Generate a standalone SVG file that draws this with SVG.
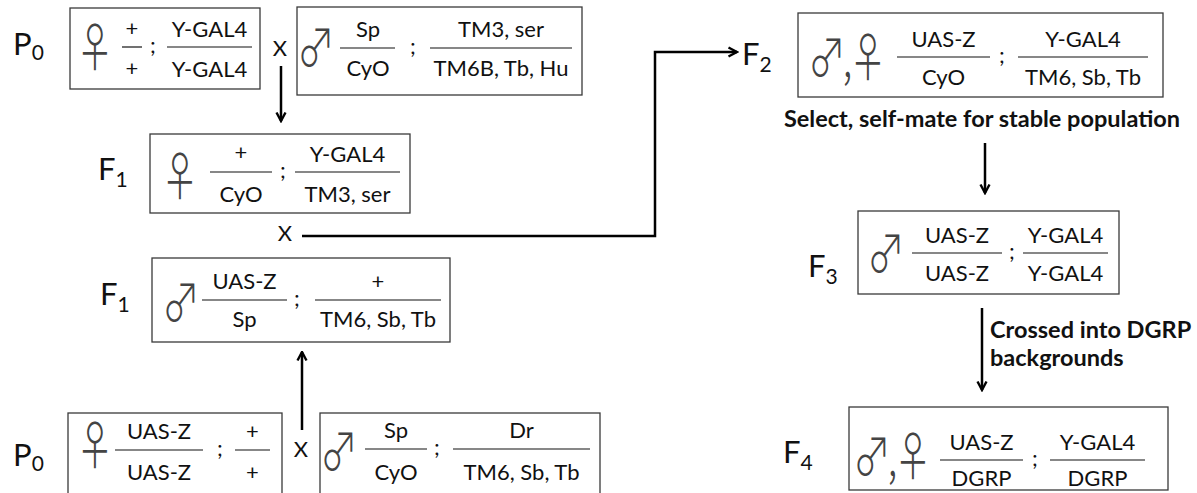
<svg xmlns="http://www.w3.org/2000/svg" width="1197" height="493" viewBox="0 0 1197 493">
<defs>
<style>
.box{fill:none;stroke:#3a3a3a;stroke-width:1.3}
.fl{stroke:#111;stroke-width:1.2}
.t{font-family:Lato,"Open Sans",sans-serif;font-size:22px;fill:#111;text-anchor:middle}
.semi{font-family:Lato,"Open Sans",sans-serif;font-size:22px;fill:#111}
.lbl{font-family:Lato,"Open Sans",sans-serif;font-size:31px;fill:#111}
.sub{font-size:21px}
.sym{font-family:"Noto Sans CJK JP","DejaVu Sans",sans-serif;font-size:42px;font-weight:300;fill:#444}
.mid{text-anchor:middle}
.pair{letter-spacing:-3.5px}
.bold{font-family:Lato,"Open Sans",sans-serif;font-weight:bold;font-size:23.5px;fill:#111}
.conn{fill:none;stroke:#000;stroke-width:2.5}
</style>
<marker id="ah" viewBox="0 0 12 12" refX="10.5" refY="6" markerWidth="12" markerHeight="12" markerUnits="userSpaceOnUse" orient="auto">
<path d="M2,1.5 L10.5,6 L2,10.5" fill="none" stroke="#000" stroke-width="2.4"/>
</marker>
</defs>
<rect width="1197" height="493" fill="#fff"/>

<g id="connectors">
<path class="conn" d="M281,66 V121" marker-end="url(#ah)"/>
<path class="conn" d="M302,236 H655 V52 H737" marker-end="url(#ah)"/>
<path class="conn" d="M302,430 V352" marker-end="url(#ah)"/>
<path class="conn" d="M985,143 V193" marker-end="url(#ah)"/>
<path class="conn" d="M982,308 V390" marker-end="url(#ah)"/>
</g>

<g id="labels">
<text class="lbl" x="13" y="55">P<tspan class="sub" dy="5">0</tspan></text>
<text class="lbl" x="98" y="180">F<tspan class="sub" dy="7">1</tspan></text>
<text class="lbl" x="100" y="305">F<tspan class="sub" dy="7">1</tspan></text>
<text class="lbl" x="13" y="466">P<tspan class="sub" dy="5">0</tspan></text>
<text class="lbl" x="742" y="65">F<tspan class="sub" dy="7">2</tspan></text>
<text class="lbl" x="808" y="277">F<tspan class="sub" dy="7">3</tspan></text>
<text class="lbl" x="783" y="463">F<tspan class="sub" dy="7">4</tspan></text>
<text class="t" x="280" y="56">X</text>
<text class="t" x="285" y="241">X</text>
<text class="t" x="301" y="457">X</text>
<text class="bold" x="982" y="127" text-anchor="middle">Select, self-mate for stable population</text>
<text class="bold" x="990" y="338">Crossed into DGRP</text>
<text class="bold" x="990" y="366">backgrounds</text>
</g>

<g id="p0-female-top">
<rect class="box" x="70" y="8" width="190" height="81"/>
<text class="sym mid" y="17" transform="translate(95,46) scale(0.9,1.25)">♀</text>
<line class="fl" x1="122" y1="47" x2="142" y2="47"/>
<text class="t" x="132" y="36">+</text>
<text class="t" x="132" y="76">+</text>
<text class="semi" x="150" y="53">;</text>
<line class="fl" x1="167" y1="47" x2="252" y2="47"/>
<text class="t" x="209.5" y="37">Y-GAL4</text>
<text class="t" x="209.5" y="77">Y-GAL4</text>
</g>

<g id="p0-male-top">
<rect class="box" x="297" y="7" width="285" height="88"/>
<text class="sym mid" y="17" transform="translate(316,46) scale(0.9,1.25)">♂</text>
<line class="fl" x1="340" y1="48" x2="395" y2="48"/>
<text class="t" x="368" y="37">Sp</text>
<text class="t" x="368" y="76">CyO</text>
<text class="semi" x="410" y="54">;</text>
<line class="fl" x1="430" y1="48" x2="572" y2="48"/>
<text class="t" x="501" y="37">TM3, ser</text>
<text class="t" x="501" y="76">TM6B, Tb, Hu</text>
</g>

<g id="f1-female">
<rect class="box" x="150" y="134" width="260" height="79"/>
<text class="sym mid" y="17" transform="translate(180,175) scale(0.9,1.25)">♀</text>
<line class="fl" x1="210" y1="172" x2="272" y2="172"/>
<text class="t" x="241" y="160">+</text>
<text class="t" x="241" y="202">CyO</text>
<text class="semi" x="280" y="178">;</text>
<line class="fl" x1="295" y1="172" x2="400" y2="172"/>
<text class="t" x="347.5" y="162">Y-GAL4</text>
<text class="t" x="347.5" y="202">TM3, ser</text>
</g>

<g id="f1-male">
<rect class="box" x="152" y="258" width="298" height="84"/>
<text class="sym mid" y="17" transform="translate(181,301) scale(0.9,1.25)">♂</text>
<line class="fl" x1="202" y1="300" x2="287" y2="300"/>
<text class="t" x="244.5" y="289">UAS-Z</text>
<text class="t" x="244.5" y="327">Sp</text>
<text class="semi" x="294" y="306">;</text>
<line class="fl" x1="315" y1="300" x2="441" y2="300"/>
<text class="t" x="378" y="289">+</text>
<text class="t" x="378" y="327">TM6, Sb, Tb</text>
</g>

<g id="p0-female-bottom">
<rect class="box" x="68" y="413" width="214" height="90"/>
<text class="sym mid" y="17" transform="translate(95,444) scale(0.9,1.25)">♀</text>
<line class="fl" x1="115" y1="450" x2="203" y2="450"/>
<text class="t" x="159" y="439">UAS-Z</text>
<text class="t" x="159" y="480">UAS-Z</text>
<text class="semi" x="217" y="456">;</text>
<line class="fl" x1="235" y1="450" x2="270" y2="450"/>
<text class="t" x="252.5" y="439">+</text>
<text class="t" x="252.5" y="480">+</text>
</g>

<g id="p0-male-bottom">
<rect class="box" x="320" y="413" width="280" height="90"/>
<text class="sym mid" y="17" transform="translate(339,450) scale(0.9,1.25)">♂</text>
<line class="fl" x1="365" y1="449" x2="427" y2="449"/>
<text class="t" x="396" y="438">Sp</text>
<text class="t" x="396" y="480">CyO</text>
<text class="semi" x="434" y="455">;</text>
<line class="fl" x1="453" y1="449" x2="590" y2="449"/>
<text class="t" x="521.5" y="438">Dr</text>
<text class="t" x="521.5" y="480">TM6, Sb, Tb</text>
</g>

<g id="f2">
<rect class="box" x="798" y="13" width="365" height="84"/>
<text class="sym pair" y="17" transform="translate(808,56) scale(0.9,1.25)">♂,♀</text>
<line class="fl" x1="897" y1="57" x2="990" y2="57"/>
<text class="t" x="943.5" y="47">UAS-Z</text>
<text class="t" x="943.5" y="85">CyO</text>
<text class="semi" x="999" y="63">;</text>
<line class="fl" x1="1018" y1="57" x2="1148" y2="57"/>
<text class="t" x="1083" y="47">Y-GAL4</text>
<text class="t" x="1083" y="85">TM6, Sb, Tb</text>
</g>

<g id="f3">
<rect class="box" x="858" y="211" width="261" height="83"/>
<text class="sym mid" y="17" transform="translate(886,252) scale(0.9,1.25)">♂</text>
<line class="fl" x1="912" y1="253" x2="1002" y2="253"/>
<text class="t" x="957" y="243">UAS-Z</text>
<text class="t" x="957" y="281">UAS-Z</text>
<text class="semi" x="1009" y="259">;</text>
<line class="fl" x1="1023" y1="253" x2="1108" y2="253"/>
<text class="t" x="1065.5" y="243">Y-GAL4</text>
<text class="t" x="1065.5" y="281">Y-GAL4</text>
</g>

<g id="f4">
<rect class="box" x="849" y="407" width="319" height="83"/>
<text class="sym pair" y="17" transform="translate(853,455) scale(0.9,1.25)">♂,♀</text>
<line class="fl" x1="940" y1="460" x2="1023" y2="460"/>
<text class="t" x="981.5" y="450">UAS-Z</text>
<text class="t" x="981.5" y="486">DGRP</text>
<text class="semi" x="1032" y="466">;</text>
<line class="fl" x1="1050" y1="460" x2="1145" y2="460"/>
<text class="t" x="1097.5" y="450">Y-GAL4</text>
<text class="t" x="1097.5" y="486">DGRP</text>
</g>
</svg>
